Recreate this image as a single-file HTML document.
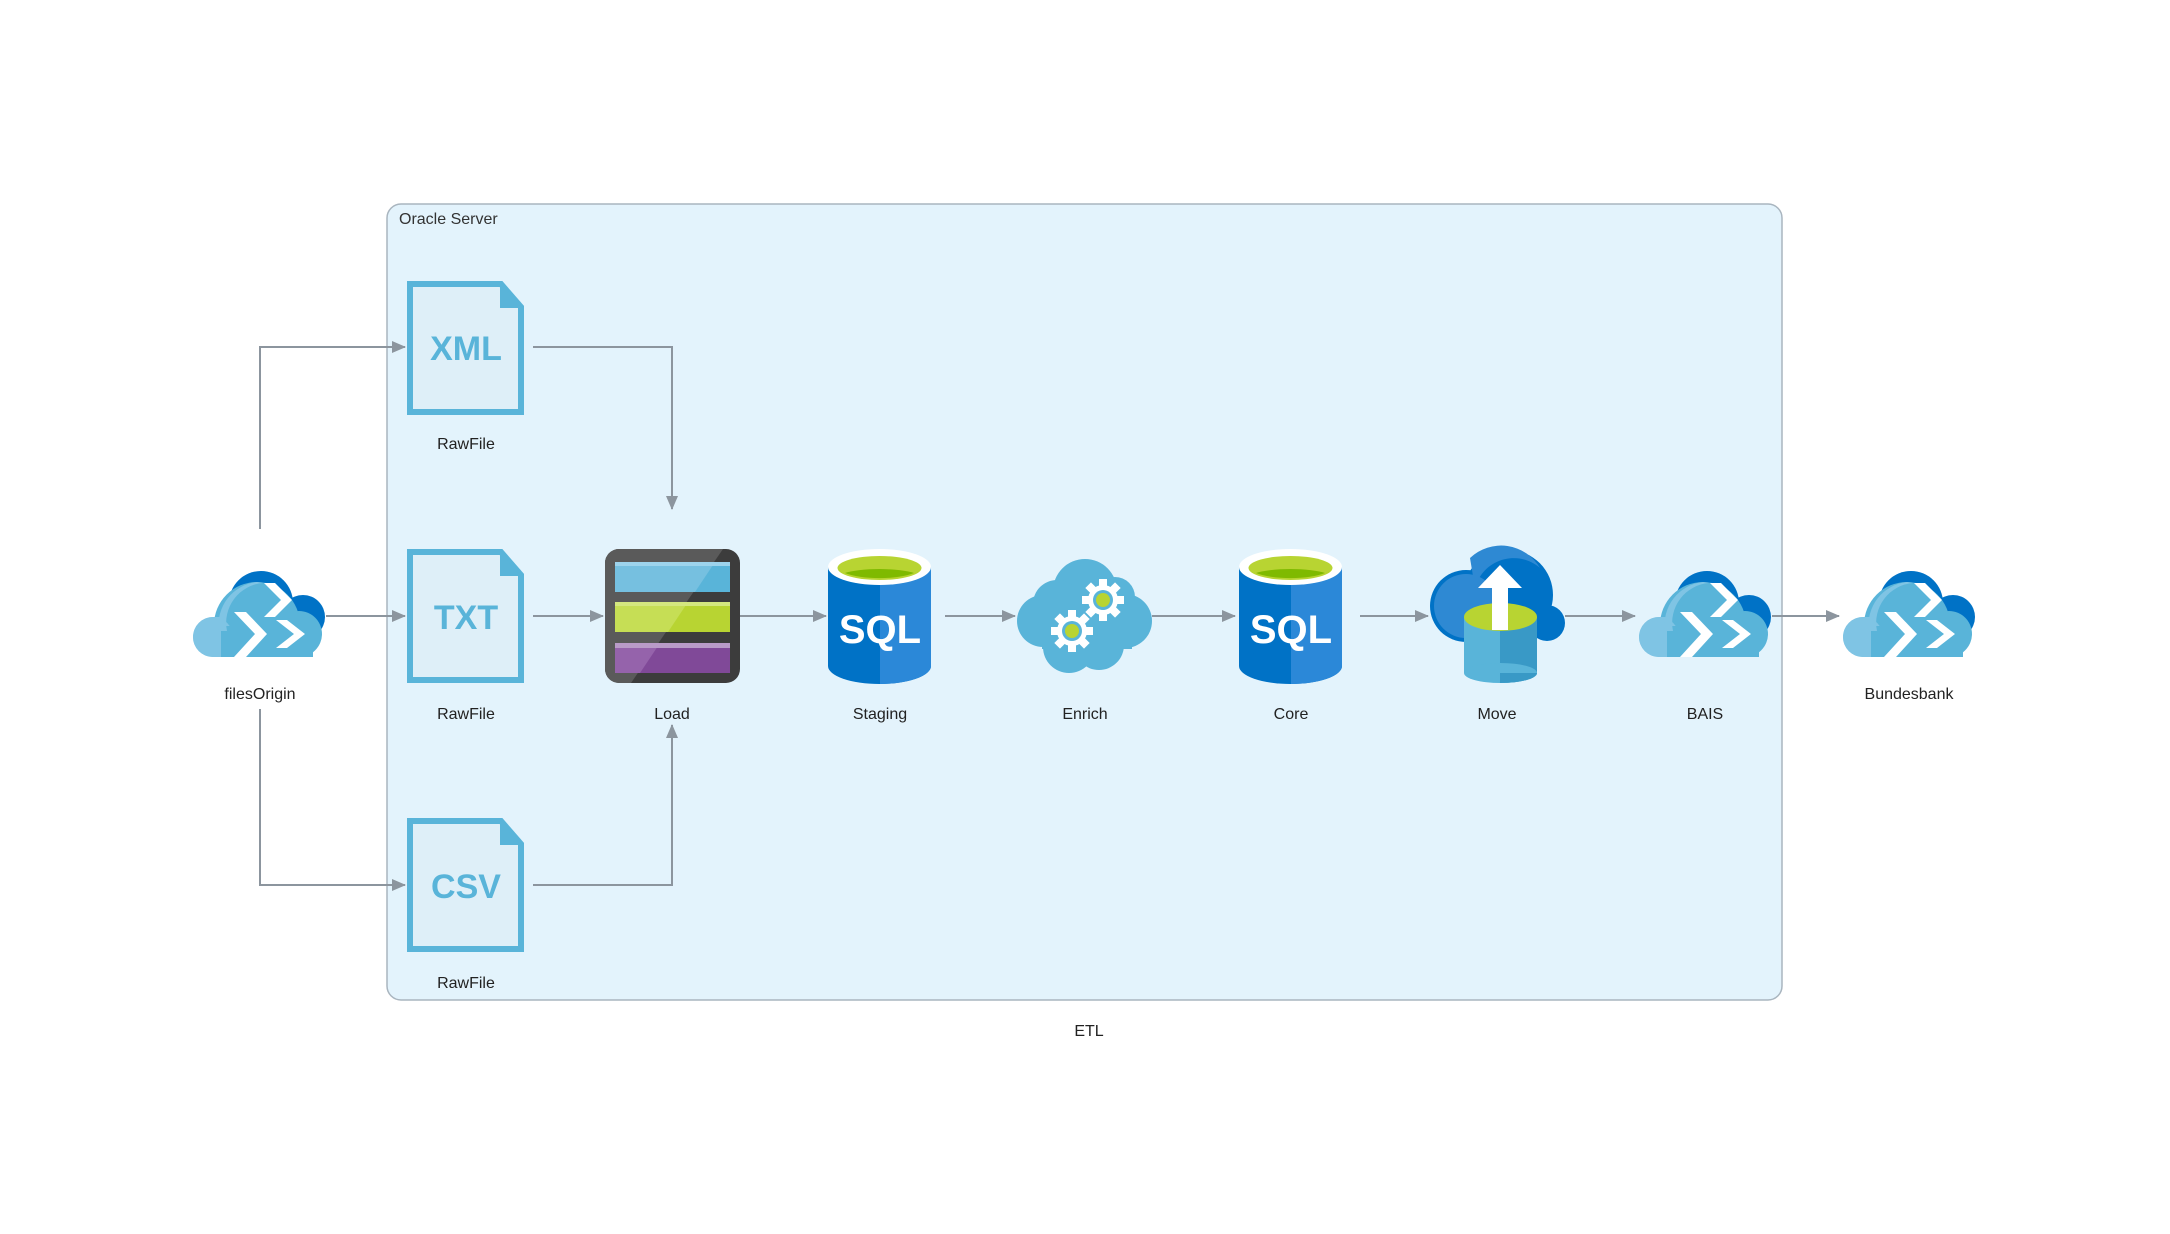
<!DOCTYPE html>
<html><head><meta charset="utf-8"><style>
html,body{margin:0;padding:0;background:#fff;}
svg{display:block;}
text{font-family:"Liberation Sans",sans-serif;}
</style></head><body>
<svg width="2170" height="1234" viewBox="0 0 2170 1234" xmlns="http://www.w3.org/2000/svg">
<defs>
<marker id="ah" markerWidth="14" markerHeight="12" refX="13" refY="6" orient="auto" markerUnits="userSpaceOnUse">
<path d="M0,0 L14,6 L0,12 z" fill="#8c959e"/>
</marker>
<symbol id="adf" viewBox="0 0 135 86">
<circle cx="70" cy="32" r="32" fill="#0072c6"/>
<circle cx="112" cy="46" r="22" fill="#0072c6"/>
<circle cx="66" cy="54" r="43" fill="#59b4d9"/>
<circle cx="22" cy="66" r="20" fill="#7fc4e4"/>
<circle cx="108" cy="63" r="23" fill="#59b4d9"/>
<rect x="22" y="55" width="100" height="31" fill="#59b4d9"/>
<path d="M22,86 A20,20 0 0 1 22,46 L30,46 L30,86 z" fill="#7fc4e4"/>
<path d="M66,11 A43,43 0 0 0 28,60 L36,60 A40,40 0 0 1 72,12 z" fill="#7fc4e4"/>
<polygon points="73,12 84,12 101,29 84,46 73,46 90,29" fill="#fff"/>
<polygon points="43,41 55,41 76,63 55,86 43,86 64,63" fill="#fff"/>
<polygon points="85,49 96,49 114,63 96,77 85,77 103,63" fill="#fff"/>
</symbol>
<symbol id="sql" viewBox="0 0 103 135">
<rect x="0" y="18" width="103" height="99" fill="#0072c6"/>
<ellipse cx="51.5" cy="117" rx="51.5" ry="18" fill="#0072c6"/>
<path d="M52,18 L103,18 L103,117 A51.5,18 0 0 1 52,135 z" fill="#2b88d8"/>
<ellipse cx="51.5" cy="18" rx="51.5" ry="18" fill="#fff"/>
<ellipse cx="51.5" cy="19" rx="42" ry="12" fill="#b8d432"/>
<path d="M17,24 A42,12 0 0 0 86,24 A40,8 0 0 0 17,24 z" fill="#7fba00"/>
<text x="52" y="94" text-anchor="middle" font-size="40" font-weight="bold" fill="#fff">SQL</text>
</symbol>
<symbol id="doc" viewBox="0 0 117 134">
<path d="M3,3 L94,3 L114,26 L114,131 L3,131 z" fill="#deeff8" stroke="#59b4d9" stroke-width="6"/>
<path d="M94,3 L114,26 L94,26 z" fill="#59b4d9" stroke="#59b4d9" stroke-width="2"/>
</symbol>
</defs>

<rect x="387" y="204" width="1395" height="796" rx="14" fill="#e3f3fc" stroke="#a9b5bf" stroke-width="1.5"/>
<text x="399" y="224" font-size="16" fill="#333">Oracle Server</text>
<text x="1089" y="1036" font-size="16" fill="#222" text-anchor="middle">ETL</text>

<g stroke="#8c959e" stroke-width="2" fill="none" marker-end="url(#ah)">
<path d="M326,616 L405,616"/>
<path d="M260,529 L260,347 L405,347"/>
<path d="M260,709 L260,885 L405,885"/>
<path d="M533,347 L672,347 L672,509"/>
<path d="M533,885 L672,885 L672,725"/>
<path d="M533,616 L603,616"/>
<path d="M740,616 L826,616"/>
<path d="M945,616 L1015,616"/>
<path d="M1152,616 L1235,616"/>
<path d="M1360,616 L1428,616"/>
<path d="M1565,616 L1635,616"/>
<path d="M1772,616 L1839,616"/>
</g>

<use href="#adf" x="191" y="571" width="135" height="86"/>
<text x="260" y="699" font-size="16" fill="#222" text-anchor="middle">filesOrigin</text>
<use href="#adf" x="1637" y="571" width="135" height="86"/>
<text x="1705" y="719" font-size="16" fill="#222" text-anchor="middle">BAIS</text>
<use href="#adf" x="1841" y="571" width="135" height="86"/>
<text x="1909" y="699" font-size="16" fill="#222" text-anchor="middle">Bundesbank</text>

<use href="#doc" x="407" y="281" width="117" height="134"/>
<text x="466" y="360" font-size="34" font-weight="bold" fill="#59b4d9" text-anchor="middle">XML</text>
<text x="466" y="449" font-size="16" fill="#222" text-anchor="middle">RawFile</text>
<use href="#doc" x="407" y="549" width="117" height="134"/>
<text x="466" y="629" font-size="34" font-weight="bold" fill="#59b4d9" text-anchor="middle">TXT</text>
<text x="466" y="719" font-size="16" fill="#222" text-anchor="middle">RawFile</text>
<use href="#doc" x="407" y="818" width="117" height="134"/>
<text x="466" y="898" font-size="34" font-weight="bold" fill="#59b4d9" text-anchor="middle">CSV</text>
<text x="466" y="988" font-size="16" fill="#222" text-anchor="middle">RawFile</text>

<g transform="translate(605,549)">
<rect x="0" y="0" width="135" height="134" rx="14" fill="#3c3c3c"/>
<path d="M14,0 L118,0 L26,134 L14,134 A14,14 0 0 1 0,120 L0,14 A14,14 0 0 1 14,0z" fill="#5a5a5a"/>
<rect x="10" y="13" width="115" height="30" fill="#59b4d9"/>
<rect x="10" y="53" width="115" height="30" fill="#b8d432"/>
<rect x="10" y="94" width="115" height="30" fill="#804998"/>
<path d="M10,13 L110,13 L90,43 L10,43z" fill="#76c0e0"/>
<path d="M10,53 L83,53 L63,83 L10,83z" fill="#c6de55"/>
<path d="M10,94 L55,94 L35,124 L10,124z" fill="#9563ab"/>
<rect x="10" y="13" width="115" height="4" fill="#9dd3ec"/>
<rect x="10" y="53" width="115" height="4" fill="#d4e77f"/>
<rect x="10" y="94" width="115" height="5" fill="#b99bc8"/>
</g>
<text x="672" y="719" font-size="16" fill="#222" text-anchor="middle">Load</text>

<use href="#sql" x="828" y="549" width="103" height="135"/>
<text x="880" y="719" font-size="16" fill="#222" text-anchor="middle">Staging</text>
<use href="#sql" x="1239" y="549" width="103" height="135"/>
<text x="1291" y="719" font-size="16" fill="#222" text-anchor="middle">Core</text>

<g transform="translate(1017,559)" fill="#59b4d9">
<circle cx="68" cy="32" r="32"/>
<circle cx="40" cy="45" r="24"/>
<circle cx="26" cy="62" r="26"/>
<circle cx="52" cy="88" r="26"/>
<circle cx="82" cy="86" r="25"/>
<circle cx="108" cy="62" r="27"/>
<circle cx="98" cy="38" r="20"/>
<rect x="25" y="35" width="90" height="55"/>
<g transform="translate(86,41)">
<g fill="#fff"><circle r="15"/>
<rect x="-4" y="-21" width="8" height="42"/><rect x="-21" y="-4" width="42" height="8"/>
<rect x="-4" y="-21" width="8" height="42" transform="rotate(45)"/><rect x="-4" y="-21" width="8" height="42" transform="rotate(-45)"/></g>
<circle r="10" fill="#59b4d9"/><circle r="7" fill="#b8d432"/>
</g>
<g transform="translate(55,72)">
<g fill="#fff"><circle r="15"/>
<rect x="-4" y="-21" width="8" height="42"/><rect x="-21" y="-4" width="42" height="8"/>
<rect x="-4" y="-21" width="8" height="42" transform="rotate(45)"/><rect x="-4" y="-21" width="8" height="42" transform="rotate(-45)"/></g>
<circle r="10" fill="#59b4d9"/><circle r="7" fill="#b8d432"/>
</g>
</g>
<text x="1085" y="719" font-size="16" fill="#222" text-anchor="middle">Enrich</text>

<g transform="translate(1430,548)">
<circle cx="78" cy="47" r="45" fill="#0072c6"/>
<circle cx="36" cy="58" r="36" fill="#0072c6"/>
<circle cx="117" cy="75" r="18" fill="#0072c6"/>
<rect x="20" y="60" width="100" height="26" fill="#0072c6"/>
<circle cx="36" cy="58" r="32" fill="#2e89d3"/>
<path d="M40,10 A45,45 0 0 1 110,20 A40,40 0 0 0 45,40 z" fill="#2e89d3"/>
<rect x="34" y="69" width="73" height="56" fill="#59b4d9"/>
<path d="M70,69 L107,69 L107,125 A36.5,10 0 0 1 70,135 z" fill="#3999c6"/>
<ellipse cx="70.5" cy="125" rx="36.5" ry="10" fill="#59b4d9"/>
<path d="M70,125 L107,125 A36.5,10 0 0 1 70,135 z" fill="#3999c6"/>
<ellipse cx="70.5" cy="69" rx="36.5" ry="14" fill="#b8d432"/>
<rect x="62" y="38" width="16" height="44" fill="#fff"/>
<polygon points="48,40 92,40 70,17" fill="#fff"/>
</g>
<text x="1497" y="719" font-size="16" fill="#222" text-anchor="middle">Move</text>
</svg>
</body></html>
